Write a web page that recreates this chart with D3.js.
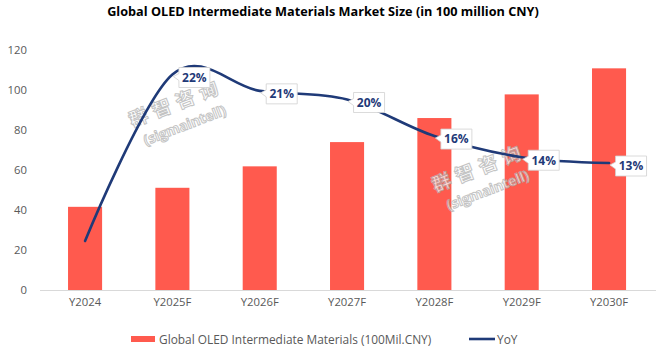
<!DOCTYPE html>
<html><head><meta charset="utf-8">
<script src="https://cdn.jsdelivr.net/npm/d3@7"></script>
<style>body{margin:0;background:#fff}svg{display:block}</style>
</head><body>
<svg id="c" width="656" height="356"></svg>
<script>
const categories = ["Y2024","Y2025F","Y2026F","Y2027F","Y2028F","Y2029F","Y2030F"];
const marketSize = [41.5, 51.0, 61.7, 73.8, 85.8, 97.6, 110.6];
const yoy = [5.1, 22.4, 20.7, 19.8, 16.0, 13.8, 13.2];
const yTicks = [0,20,40,60,80,100,120];
const title = "Global OLED Intermediate Materials Market Size (in 100 million CNY)";
const barLegend = "Global OLED Intermediate Materials (100Mil.CNY)";
const lineLegend = "YoY";

const svg = d3.select("#c");
const font = "'Open Sans', 'Liberation Sans', sans-serif";
const barColor = "#FF5A4E", lineColor = "#1F3A78", tickColor = "#595959";

const x = d3.scaleBand().domain(categories).range([41.4, 652.7]).paddingInner(0.61).paddingOuter(0.305);
const y = d3.scaleLinear().domain([0,120]).range([290, 49.5]);
const y2 = d3.scaleLinear().domain([0,25]).range([290, 49.5]);

// title
svg.append("text").attr("x",323).attr("y",16).attr("text-anchor","middle")
  .attr("font-family",font).attr("font-weight","bold").attr("font-size",12.7).attr("fill","#000").text(title);

// y axis labels
const yAxis = d3.axisLeft(y).tickValues(yTicks).tickSize(0).tickPadding(0);
const ga = svg.append("g").attr("transform","translate(27,0)").call(yAxis);
ga.select(".domain").remove();
ga.selectAll("text").attr("font-family",font).attr("font-size",11.3).attr("fill",tickColor);

// x axis
const xAxis = d3.axisBottom(x).tickSize(0).tickPadding(8);
const gx = svg.append("g").attr("transform","translate(0,290)").call(xAxis);
gx.select(".domain").attr("stroke","#d9d9d9").attr("d","M40,0.5H656");
gx.selectAll("text").attr("font-family",font).attr("font-size",11.3).attr("fill",tickColor);

// watermark
function watermark(cx, cy){
  const g = svg.append("g").attr("transform",`translate(${cx},${cy}) rotate(-21)`).attr("opacity",0.75);
  g.append("text").attr("text-anchor","middle").attr("y",-4).attr("font-family","'Noto Sans CJK SC'")
    .attr("font-weight","bold").attr("font-size",19).attr("letter-spacing",6).attr("fill","#fff")
    .attr("stroke","#b0b0b0").attr("stroke-width",1).text("群智咨询");
  g.append("text").attr("text-anchor","middle").attr("y",18).attr("font-family",font)
    .attr("font-weight","bold").attr("font-size",14).attr("fill","#fff")
    .attr("stroke","#b0b0b0").attr("stroke-width",1).text("(sigmaintell)");
}

// bars
svg.append("g").selectAll("rect").data(marketSize).join("rect")
  .attr("x",(d,i)=>x(categories[i])).attr("width",x.bandwidth())
  .attr("y",d=>y(d)).attr("height",d=>y(0)-y(d)).attr("fill",barColor);

watermark(180,113);
watermark(483,178);

// line
const line = d3.line().x((d,i)=>x(categories[i])+x.bandwidth()/2).y(d=>y2(d)).curve(d3.curveCardinal.tension(0));
svg.append("path").datum(yoy).attr("d",line).attr("fill","none").attr("stroke",lineColor)
  .attr("stroke-width",2.6).attr("stroke-linecap","round");

// labels (callouts)
const lab = svg.append("g");
yoy.forEach((v,i)=>{
  if(i===0) return;
  const px = x(categories[i])+x.bandwidth()/2, py = y2(v);
  const bx = px+6.5, by = py+3-10, w=31, h=20;
  const g = lab.append("g");
  g.append("path").attr("d",`M${bx},${by} H${bx+w} V${by+h} H${bx} V${py+6} L${px+1},${py+2} L${bx},${py-1} Z`)
    .attr("fill","#fff").attr("stroke","#d0d0d0").attr("stroke-width",0.8);
  g.append("text").attr("x",bx+w/2).attr("y",by+h/2+4.3).attr("text-anchor","middle")
    .attr("font-family",font).attr("font-weight","bold").attr("font-size",12).attr("fill",lineColor)
    .text(Math.round(v)+"%");
});

// legend
svg.append("rect").attr("x",131).attr("y",336).attr("width",24).attr("height",6).attr("fill",barColor);
svg.append("text").attr("x",159).attr("y",343.5).attr("font-family",font).attr("font-size",11.9).attr("fill",tickColor).text(barLegend);
svg.append("line").attr("x1",469).attr("x2",495).attr("y1",339).attr("y2",339).attr("stroke",lineColor).attr("stroke-width",2.6);
svg.append("text").attr("x",497).attr("y",343.5).attr("font-family",font).attr("font-size",11.9).attr("fill",tickColor).text(lineLegend);
</script>
</body></html>
